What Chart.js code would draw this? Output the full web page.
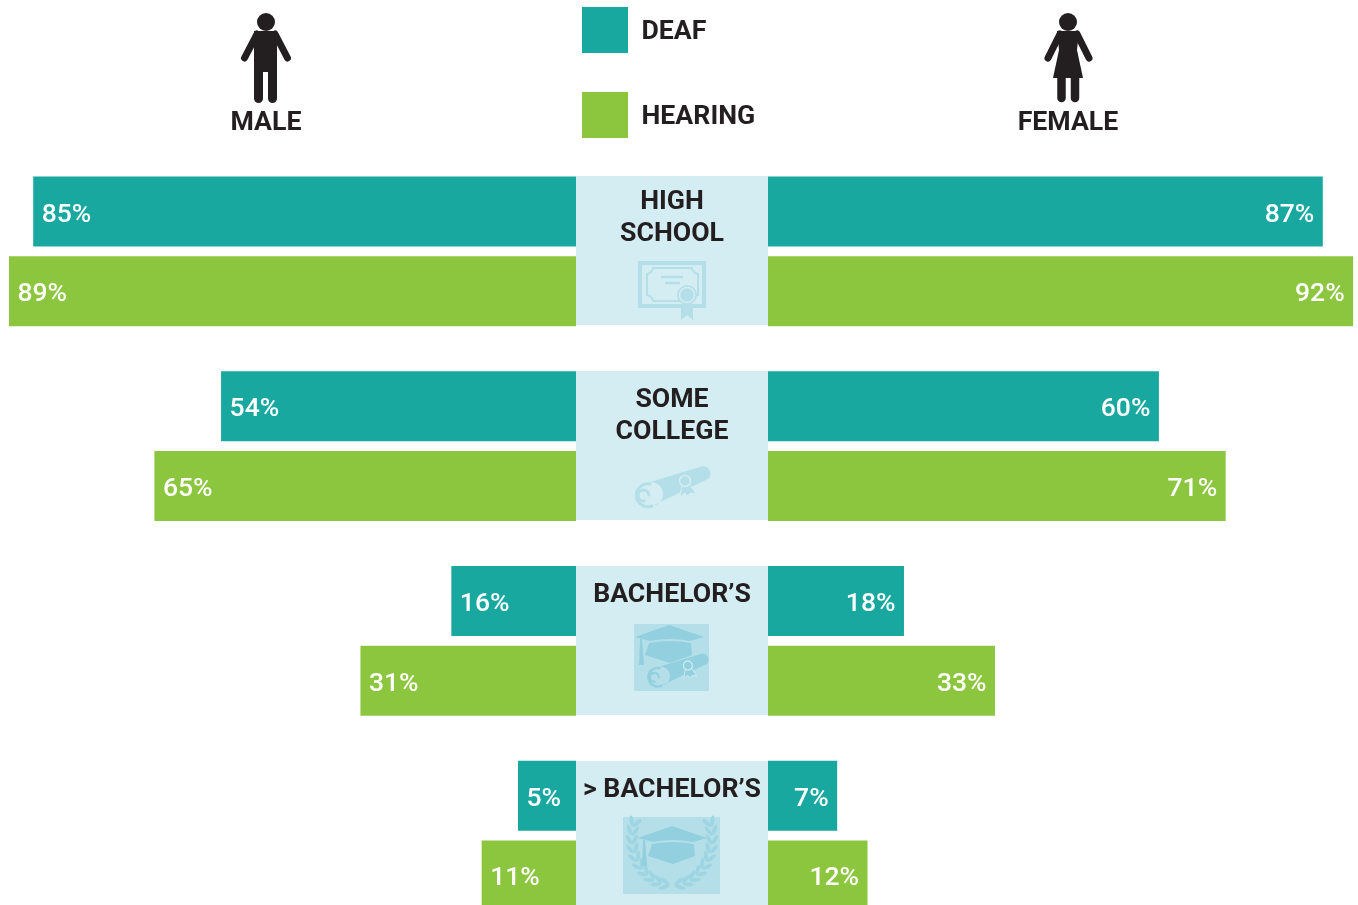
<!DOCTYPE html>
<html>
<head>
<meta charset="utf-8">
<title>Educational attainment</title>
<script src="https://cdn.jsdelivr.net/npm/chart.js@4"></script>
<style>
html, body { margin: 0; padding: 0; background: #fff; }
#page { position: relative; width: 1358px; height: 905px; overflow: hidden; font-family: Roboto, sans-serif; }
#page canvas { position: absolute; top: 154px; }
#left-chart { left: 0; }
#right-chart { left: 768px; }
.panel { position: absolute; left: 576px; width: 192px; background: #d4edf3; }
#overlay { position: absolute; left: 0; top: 0; }
#overlay text { font-family: Roboto, sans-serif; font-weight: 700; font-size: 26.7px; fill: #231f20; text-anchor: middle; }
</style>
</head>
<body>
<div id="page">
    <div id="panels"></div>
    <canvas id="left-chart" width="576" height="779"></canvas>
    <canvas id="right-chart" width="590" height="779"></canvas>
    <svg id="overlay" width="1358" height="905" xmlns="http://www.w3.org/2000/svg">
        <defs>
            <g id="scroll">
                <path d="M650 482 L703 466 A7.5 7.5 0 0 1 708 479 L652 506 A11.5 11.5 0 0 0 650 482 Z" fill="currentColor"/>
                <path d="M652 506 A11.5 11.5 0 1 1 650 484 M644 501 A5.5 5.5 0 1 1 649 495" fill="none" stroke="currentColor" stroke-width="3" stroke-linecap="round"/>
                <path d="M682 484 L680 497 L685 493 L687 496 L691 493 L696 494 L689 483 Z" fill="currentColor" stroke="#d4edf3" stroke-width="1"/>
                <circle cx="685" cy="481" r="5.5" fill="currentColor" stroke="#d4edf3" stroke-width="1.5"/>
            </g>
            <g id="cap">
                <path d="M635 637 L669 625 L704 637 L690 641 Q670 637 650 641 Z"/>
                <path d="M649 643 Q670 639 691 643 L692 655 L670 663 L645 655 Z"/>
                <path d="M640 639 L642 639 L644 665 L639 665 Z"/>
            </g>
        </defs>

        <!-- male figure -->
        <g fill="#231f20" stroke="#231f20" stroke-linecap="round">
            <circle cx="266" cy="22" r="9" stroke="none"/>
            <path d="M254 31 H277 V72 H254 Z" stroke="none"/>
            <path d="M257 34 L244.5 58 M275 34 L287.5 58" stroke-width="7" fill="none"/>
            <path d="M258.5 70 V98.5 M272.5 70 V98.5" stroke-width="9" fill="none"/>
        </g>
        <!-- female figure -->
        <g fill="#231f20" stroke="#231f20" stroke-linecap="round">
            <circle cx="1068" cy="22" r="9" stroke="none"/>
            <path d="M1057 31 H1079 L1077 50 L1083 78 H1053 L1059 50 Z" stroke="none"/>
            <path d="M1060 34 L1048 58 M1077 34 L1089 58" stroke-width="7" fill="none"/>
            <path d="M1061.5 76 V98 M1075 76 V98" stroke-width="8.5" fill="none"/>
        </g>

        <!-- high school certificate -->
        <g fill="none" stroke="#b4dfe9">
            <rect x="640" y="263" width="64" height="43" stroke-width="4"/>
            <path d="M653 268 H692 Q693 273 698 274 V295 Q693 296 692 301 H653 Q652 296 647 295 V274 Q652 273 653 268 Z" stroke-width="2"/>
            <path d="M661 277 H683 M665 283 H680" stroke-width="2.5"/>
        </g>
        <path d="M681 304 H693 V320 L687 315 L681 320 Z" fill="#b4dfe9"/>
        <circle cx="687" cy="295" r="10" fill="#b4dfe9"/>
        <circle cx="687" cy="295" r="7.5" fill="none" stroke="#d4edf3" stroke-width="1.5"/>

        <!-- some college scroll -->
        <use href="#scroll" style="color:#b4dfe9"/>

        <!-- bachelor's cap and scroll -->
        <rect x="634" y="624" width="75" height="67" fill="#b4dfe9"/>
        <use href="#cap" fill="#93d0df"/>
        <use href="#scroll" style="color:#93d0df" transform="translate(133 276) scale(0.81)"/>

        <!-- above bachelor's wreath and cap -->
        <rect x="623" y="817" width="97" height="77" fill="#b4dfe9"/>
        <g id="wreath" fill="#9ed5e2"></g>
        <use href="#cap" fill="#93d0df" transform="translate(3 201)"/>

        <!-- legend -->
        <rect id="swatch-deaf" x="582" y="7" width="46" height="46"/>
        <rect id="swatch-hearing" x="582" y="92" width="46" height="46"/>
        <g id="labels"></g>
    </svg>
</div>
<script>
// Values as printed on the picture
const categories = [['HIGH', 'SCHOOL'], ['SOME', 'COLLEGE'], ["BACHELOR\u2019S"], ["> BACHELOR\u2019S"]];
const maleDeaf = [85, 54, 16, 5];
const maleHearing = [89, 65, 31, 11];
const femaleDeaf = [87, 60, 18, 7];
const femaleHearing = [92, 71, 33, 12];

const seriesNames = ['DEAF', 'HEARING'];
const seriesColors = ['#19a89f', '#8cc63f'];
const sideNames = ['MALE', 'FEMALE'];

// The zero of each axis sits a little outside the centre panel
const leftAxis = { min: -4.57, max: 90.48 };
const rightAxis = { min: -4.4, max: 92.8 };
const labelOffsets = [-42.5, -39, -39, -39];
const canvasTop = 154;

const valueLabels = {
    id: 'valueLabels',
    afterDatasetsDraw(chart, args, opts) {
        const ctx = chart.ctx;
        ctx.save();
        ctx.font = '500 26.5px Roboto, sans-serif';
        ctx.fillStyle = '#fff';
        ctx.textAlign = opts.side === 'left' ? 'left' : 'right';
        chart.data.datasets.forEach((ds, d) => {
            chart.getDatasetMeta(d).data.forEach((bar, i) => {
                const x = opts.side === 'left' ? bar.x + 8.5 : bar.x - 8.5;
                ctx.fillText(ds.data[i] + '%', x, bar.y + 10);
            });
        });
        ctx.restore();
    }
};

function buildChart(id, deaf, hearing, axis, side) {
    const base = axis.min;
    return new Chart(document.getElementById(id), {
        type: 'bar',
        data: {
            labels: categories.map(c => c.join(' ')),
            datasets: [
                { label: seriesNames[0], data: deaf, backgroundColor: seriesColors[0], base: base },
                { label: seriesNames[1], data: hearing, backgroundColor: seriesColors[1], base: base }
            ]
        },
        plugins: [valueLabels],
        options: {
            indexAxis: 'y',
            responsive: false,
            animation: false,
            categoryPercentage: 0.8167,
            barPercentage: 0.8805,
            layout: { padding: 0 },
            scales: {
                x: { display: false, reverse: side === 'left', min: axis.min, max: axis.max },
                y: { display: false }
            },
            plugins: {
                legend: { display: false },
                tooltip: { enabled: false },
                valueLabels: { side: side }
            }
        }
    });
}

const leftChart = buildChart('left-chart', maleDeaf, maleHearing, leftAxis, 'left');
buildChart('right-chart', femaleDeaf, femaleHearing, rightAxis, 'right');

function addText(parent, str, x, y, anchor) {
    const t = document.createElementNS('http://www.w3.org/2000/svg', 'text');
    t.textContent = str;
    t.setAttribute('x', x);
    t.setAttribute('y', y);
    if (anchor) t.style.textAnchor = anchor;
    parent.appendChild(t);
}

// Centre panels follow the chart's category positions
const labels = document.getElementById('labels');
categories.forEach((lines, i) => {
    const center = canvasTop + leftChart.scales.y.getPixelForValue(i);
    const div = document.createElement('div');
    div.className = 'panel';
    div.style.top = (center - 75) + 'px';
    div.style.height = '149px';
    document.getElementById('panels').appendChild(div);
    lines.forEach((line, n) => {
        addText(labels, line, 672, center + labelOffsets[i] + n * 32);
    });
});

// Headers and legend
addText(labels, sideNames[0], 266, 130);
addText(labels, sideNames[1], 1068, 130);
addText(labels, seriesNames[0], 641.5, 39, 'start');
addText(labels, seriesNames[1], 641.5, 124, 'start');
document.getElementById('swatch-deaf').setAttribute('fill', seriesColors[0]);
document.getElementById('swatch-hearing').setAttribute('fill', seriesColors[1]);

// Wreath leaves for the last panel icon
const wreath = document.getElementById('wreath');
for (let a = -20; a <= 85; a += 11) {
    [-1, 1].forEach(sign => {
        const rad = a * Math.PI / 180;
        const x = 672 + sign * 40 * Math.cos(rad);
        const y = 838 + 47 * Math.sin(rad);
        [-1, 1].forEach(out => {
            const leaf = document.createElementNS('http://www.w3.org/2000/svg', 'ellipse');
            leaf.setAttribute('rx', 2);
            leaf.setAttribute('ry', 5.5);
            const lx = x + sign * out * 3 * Math.cos(rad);
            const ly = y + out * 3 * Math.sin(rad);
            const rot = sign * (a + out * 28);
            leaf.setAttribute('transform', `translate(${lx} ${ly}) rotate(${rot})`);
            wreath.appendChild(leaf);
        });
    });
}
</script>
</body>
</html>
